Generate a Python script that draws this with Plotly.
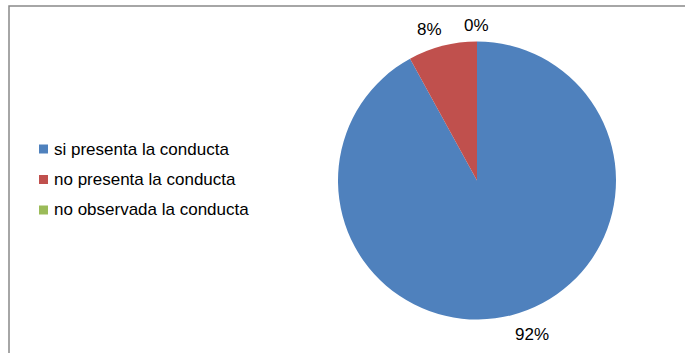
import math
import plotly.graph_objects as go

# Survey result: share of observations per behaviour category
categories = ["si presenta la conducta", "no presenta la conducta", "no observada la conducta"]
percentages = [92, 8, 0]
slice_colors = ["#4F81BD", "#C0504D", "#9BBB59"]

W, H = 685, 353
FONT = "Liberation Sans, Arial, sans-serif"

# Pie placement (pixels)
cx, cy, radius = 477, 180.5, 139
label_gap = 9

fig = go.Figure()

fig.add_trace(go.Pie(
    labels=categories,
    values=percentages,
    textinfo="none",
    marker=dict(colors=slice_colors, line=dict(width=0)),
    sort=False,
    direction="clockwise",
    rotation=0,
    hoverinfo="skip",
    showlegend=False,
    domain=dict(x=[(cx - radius) / W, (cx + radius) / W],
                y=[1 - (cy + radius) / H, 1 - (cy - radius) / H]),
))

shapes = []
annotations = []

# Outside-end percentage labels, anchored at the middle angle of each slice
total = sum(percentages)
start = 0.0
for p in percentages:
    mid = (start + p / 2) / total * 2 * math.pi  # clockwise from 12 o'clock
    start += p
    s, c = math.sin(mid), math.cos(mid)
    px = cx + (radius + label_gap) * s
    py = cy - (radius + label_gap) * c
    xanchor = "left" if s > 0.05 else ("right" if s < -0.05 else "center")
    yanchor = "bottom" if c > 0.05 else ("top" if c < -0.05 else "middle")
    annotations.append(dict(
        xref="paper", yref="paper", x=px / W, y=1 - py / H,
        xanchor=xanchor, yanchor=yanchor, text=f"{p}%", showarrow=False,
        borderpad=0,
        xshift=3 if xanchor == "right" else 0,
        yshift=-3 if yanchor == "bottom" else 0,
        font=dict(family=FONT, size=17, color="#000000"),
    ))

# Legend drawn as swatches + labels on the left side
legend_x = 39
legend_y0 = 149
legend_step = 30.5
swatch = 9
for i, (name, col) in enumerate(zip(categories, slice_colors)):
    yc = legend_y0 + i * legend_step
    shapes.append(dict(
        type="rect", xref="paper", yref="paper",
        x0=legend_x / W, x1=(legend_x + swatch) / W,
        y0=1 - (yc + swatch / 2) / H, y1=1 - (yc - swatch / 2) / H,
        fillcolor=col, line=dict(width=0),
    ))
    annotations.append(dict(
        xref="paper", yref="paper",
        x=(legend_x + swatch + 4) / W, y=1 - yc / H,
        xanchor="left", yanchor="middle",
        text=name, showarrow=False,
        font=dict(family=FONT, size=17, color="#000000"),
    ))

# Chart area frame
shapes.append(dict(
    type="rect", xref="paper", yref="paper",
    x0=9 / W, x1=1.02, y0=-0.02, y1=1 - 6 / H,
    line=dict(color="#898989", width=1.5), fillcolor="rgba(0,0,0,0)",
))

fig.update_layout(
    width=W, height=H,
    margin=dict(l=0, r=0, t=0, b=0),
    paper_bgcolor="white",
    plot_bgcolor="white",
    shapes=shapes,
    annotations=annotations,
)

fig.write_html("out.html")
